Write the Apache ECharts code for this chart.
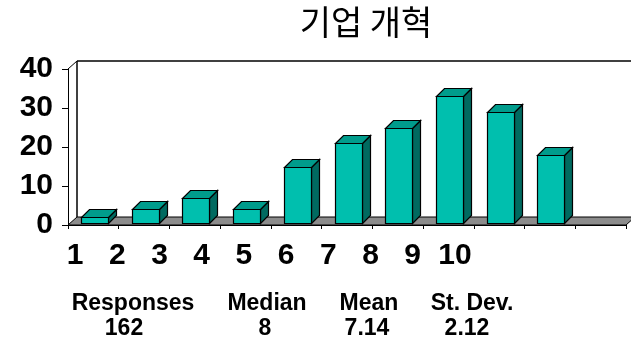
<!DOCTYPE html>
<html>
<head>
<meta charset="utf-8">
<script src="https://cdn.jsdelivr.net/npm/echarts@6/dist/echarts.min.js"></script>
<style>
html,body{margin:0;padding:0;background:#fff;}
#chart{width:631px;height:353px;}
</style>
</head>
<body>
<div id="chart"></div>
<script>
// ---- data ----
const titleText = '기업 개혁';
const categories = ['1','2','3','4','5','6','7','8','9','10',''];
const counts = [2, 4, 7, 4, 15, 21, 25, 33, 29, 18];
const xLabels = ['1','2','3','4','5','6','7','8','9','10'];
const yTicks = [0, 10, 20, 30, 40];
const statNames = ['Responses', 'Median', 'Mean', 'St. Dev.'];
const statValues = ['162', '8', '7.14', '2.12'];

// ---- styling / layout ----
const DX = 9, DY = 8;
const FRONT = '#00BFAE', TOP = '#009C8C', SIDE = '#006A60';
const FONT = "'Liberation Sans', Arial, sans-serif";
const statNameX = [133, 267, 369, 472];
const statValX = [124, 265, 367, 467];

const chart = echarts.init(document.getElementById('chart'), null, {renderer: 'canvas'});

const barData = counts.map((v, i) => [i, v]);

const graphics = [{
  type: 'text', x: 366, y: 22, z: 10,
  style: {text: titleText, textAlign: 'center', textVerticalAlign: 'middle',
          font: "34px 'Noto Sans CJK KR', sans-serif", fill: '#000'}
}];
statNames.forEach((s, k) => {
  graphics.push({type: 'text', x: statNameX[k], y: 304, z: 10,
    style: {text: s, textAlign: 'center', textVerticalAlign: 'middle',
            font: 'bold 23px ' + FONT, fill: '#000'}});
  graphics.push({type: 'text', x: statValX[k], y: 329, z: 10,
    style: {text: statValues[k], textAlign: 'center', textVerticalAlign: 'middle',
            font: 'bold 23px ' + FONT, fill: '#000'}});
});

chart.setOption({
  animation: false,
  backgroundColor: '#fff',
  graphic: graphics,
  grid: [
    {left: 68, top: 69, width: 558, height: 156},
    {left: 54, top: 229, width: 422, height: 1}
  ],
  xAxis: [{
    gridIndex: 0, type: 'category', data: categories, boundaryGap: true,
    axisLine: {show: true, lineStyle: {color: '#000', width: 1}},
    axisTick: {show: true, length: 4, interval: 0, alignWithLabel: false, lineStyle: {color: '#000'}},
    axisLabel: {show: false}, splitLine: {show: false}
  }, {
    gridIndex: 1, type: 'category', data: xLabels, boundaryGap: true,
    axisLine: {show: false}, axisTick: {show: false},
    axisLabel: {show: true, interval: 0, margin: 26, verticalAlign: 'middle',
                fontFamily: FONT, fontWeight: 'bold', fontSize: 30, color: '#000'}
  }],
  yAxis: [{
    gridIndex: 0, type: 'value', min: 0, max: 40, interval: 10,
    axisLine: {show: true, lineStyle: {color: '#000', width: 1}},
    axisTick: {show: true, length: 6, lineStyle: {color: '#000'}},
    axisLabel: {margin: 15, fontFamily: FONT, fontWeight: 'bold', fontSize: 30, color: '#000',
                formatter: v => yTicks.includes(v) ? String(v) : ''},
    splitLine: {show: false}
  }, {
    gridIndex: 1, type: 'value', show: false
  }],
  series: [{
    // floor and back walls, derived from the grid rectangle
    type: 'custom', xAxisIndex: 0, yAxisIndex: 0, z: 1,
    data: [[0, 0]],
    renderItem: function (params, api) {
      const c = params.coordSys;
      const x = c.x, y = c.y, w = c.width, h = c.height;
      return {type: 'group', children: [
        {type: 'polygon', shape: {points: [[x, y + h], [x + w, y + h], [x + w + DX, y + h - DY], [x + DX, y + h - DY]]},
         style: {fill: '#8C8C8C', stroke: '#000', lineWidth: 1}},
        {type: 'line', shape: {x1: x + DX, y1: y + h - DY, x2: x + DX, y2: y - DY}, style: {stroke: '#000', lineWidth: 1.5}},
        {type: 'line', shape: {x1: x, y1: y, x2: x + DX, y2: y - DY}, style: {stroke: '#000', lineWidth: 1}},
        {type: 'line', shape: {x1: x + DX, y1: y - DY, x2: x + w + DX + 20, y2: y - DY}, style: {stroke: '#000', lineWidth: 1.5}}
      ]};
    }
  }, {
    type: 'custom', xAxisIndex: 0, yAxisIndex: 0, z: 3,
    data: barData,
    encode: {x: 0, y: 1},
    renderItem: function (params, api) {
      const i = api.value(0), v = api.value(1);
      const base = api.coord([i, 0]);
      const top = api.coord([i, v]);
      const band = api.size([1, 0])[0];
      const bw = band * 0.53;
      const x0 = Math.round(base[0] - bw / 2 + 1) + 0.5, x1 = x0 + Math.round(bw);
      const yb = base[1] - 1.5, yt = Math.round(top[1]) + 0.5;
      const d = 8;
      const ln = {stroke: '#000', lineWidth: 1.2};
      return {type: 'group', children: [
        {type: 'polygon', shape: {points: [[x1, yb], [x1 + d, yb - d], [x1 + d, yt - d], [x1, yt]]},
         style: Object.assign({fill: SIDE}, ln)},
        {type: 'polygon', shape: {points: [[x0, yt], [x0 + d, yt - d], [x1 + d, yt - d], [x1, yt]]},
         style: Object.assign({fill: TOP}, ln)},
        {type: 'rect', shape: {x: x0, y: yt, width: x1 - x0, height: yb - yt},
         style: Object.assign({fill: FRONT}, ln)}
      ]};
    }
  }]
});
</script>
</body>
</html>
